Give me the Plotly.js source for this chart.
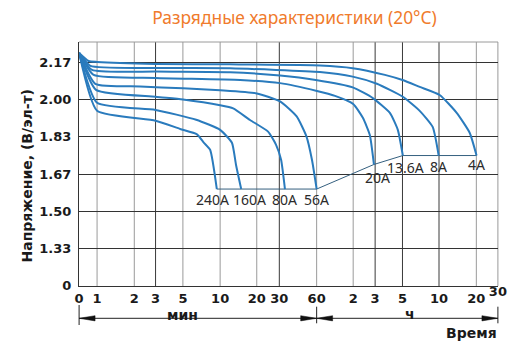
<!DOCTYPE html>
<html><head><meta charset="utf-8">
<script src="https://cdn.plot.ly/plotly-3.0.1.min.js"></script>
<style>html,body{margin:0;padding:0;background:#fff}#chart{width:517px;height:344px}</style>
</head><body><div id="chart"></div>
<script>
// ---- data ----
const tickMinutes = [0,1,2,3,5,10,20,30,60,120,180,300,600,1200,1800];
const tickLabels = ['0','1','2','3','5','10','20','30','60','2','3','5','10','20','30'];
const voltTickVals = [7/6, 8/6, 9/6, 10/6, 11/6, 12/6, 13/6];
const voltTickLabels = ['0','1.33','1.50','1.67','1.83','2.00','2.17'];
const seriesNames = ['240A','160A','80A','56A','20A','13.6A','8A','4A'];

const t240 = [0, 1, 3, 4.75, 6.5, 7.4, 8.3, 9.4];
const v240 = [2.209, 1.950, 1.906, 1.869, 1.845, 1.807, 1.776, 1.60];
const t160 = [0, 1, 3, 6.4, 10, 12.5, 13.5, 14.9];
const v160 = [2.209, 1.986, 1.954, 1.910, 1.865, 1.807, 1.709, 1.60];
const t80 = [0, 0.94, 3, 5, 10, 12.8, 17.6, 24.5, 28.3, 31, 33.3];
const v80 = [2.209, 2.044, 2.013, 2.001, 1.975, 1.961, 1.909, 1.857, 1.798, 1.731, 1.60];
const t56 = [0, 0.9, 2.24, 5, 10, 20, 30.4, 41.4, 49.7, 55, 60];
const v56 = [2.209, 2.071, 2.059, 2.051, 2.042, 2.028, 1.992, 1.925, 1.835, 1.731, 1.60];
const t20 = [0, 0.81, 3, 14.6, 30.4, 60.3, 85, 120, 143.5, 163, 176];
const v20 = [2.209, 2.111, 2.097, 2.088, 2.074, 2.039, 2.017, 1.981, 1.919, 1.843, 1.71];
const t136 = [0, 0.72, 3, 12.1, 30.4, 59, 119, 172.5, 237, 275, 302];
const v136 = [2.209, 2.133, 2.126, 2.123, 2.108, 2.088, 2.055, 2.007, 1.941, 1.865, 1.75];
const t8 = [0, 0.63, 3, 12.1, 63.8, 119, 186, 300, 416, 532, 596];
const v8 = [2.209, 2.151, 2.142, 2.140, 2.124, 2.103, 2.071, 2.014, 1.950, 1.878, 1.75];
const t4 = [0, 0.53, 1, 3, 12, 64, 119, 216, 300, 416, 607, 833, 1060, 1205];
const v4 = [2.209, 2.173, 2.169, 2.160, 2.158, 2.153, 2.141, 2.111, 2.088, 2.057, 2.021, 1.941, 1.852, 1.75];

// ---- layout scale: screen position of each time tick (piecewise log time axis) ----
const tickPos = [78.7,96.7,134,155.3,182.7,220,256.7,279.3,316.7,353.3,375.3,402.7,439.3,476.7,498.3];
const darkGrid = [1,0,0,1,0,0,0,1,0,0,1,1,1,0,0];
const XR = [78.6, 498.4];
function xpos(t){
  const n = tickMinutes.length;
  for (let i=0;i<n-1;i++){
    const a=tickMinutes[i], b=tickMinutes[i+1];
    if (t<=b || i===n-2){
      const f = (a===0) ? (t-a)/(b-a) : Math.log(t/a)/Math.log(b/a);
      return tickPos[i] + f*(tickPos[i+1]-tickPos[i]);
    }
  }
}
function px2paperX(p){ return (p-XR[0])/(XR[1]-XR[0]); }
const TOP=42, BOT=286, H=BOT-TOP;
function py2paperY(p){ return (BOT-p)/H; }

const series = [[t240,v240],[t160,v160],[t80,v80],[t56,v56],[t20,v20],[t136,v136],[t8,v8],[t4,v4]];
const blue = '#2a7bbd';
const traces = [];
const ends = series.map(s=>[s[0][s[0].length-1], s[1][s[1].length-1]]).sort((a,b)=>a[0]-b[0]);
traces.push({x: ends.map(e=>xpos(e[0])), y: ends.map(e=>e[1]), mode:'lines',
  line:{color:'#35607f', width:1}, hoverinfo:'skip'});
series.forEach((s,i)=>{
  traces.push({x: s[0].map(xpos), y: s[1], mode:'lines', name: seriesNames[i],
    line:{color: blue, width: 2, shape:'spline', smoothing:0.5}});
});
const lastIdx = tickMinutes.length-1;
// last x tick label as a text mark at the end of the time axis
traces.push({x:[xpos(tickMinutes[lastIdx])], y:[7/6], mode:'text', text:['<b>'+tickLabels[lastIdx]+'</b>'],
  textposition:'bottom center', cliponaxis:false, hoverinfo:'skip',
  textfont:{family:'DejaVu Sans', size:13, color:'#1a1a1a'}});

const labelShift = [[-4,-10],[8,-10],[0,-10],[0,-10],[4,-13],[3,-12],[0,-11],[0,-9]];
const annotations = series.map((s,i)=>({
  x: xpos(s[0][s[0].length-1]), y: s[1][s[1].length-1], xref:'x', yref:'y',
  text: seriesNames[i], showarrow:false, xanchor:'center', yanchor:'middle',
  xshift: labelShift[i][0], yshift: labelShift[i][1],
  font:{family:'Noto Sans', size:14, color:'#2b2b2b'}
}));
const boldFont = {family:'DejaVu Sans', size:14, color:'#1a1a1a', weight:'bold'};
annotations.push({xref:'paper', yref:'paper', x:px2paperX(182.5), y:py2paperY(314.5), text:'мин',
  showarrow:false, xanchor:'center', yanchor:'middle', font: boldFont});
annotations.push({xref:'paper', yref:'paper', x:px2paperX(410), y:py2paperY(313.5), text:'ч',
  showarrow:false, xanchor:'center', yanchor:'middle', font: boldFont});
annotations.push({xref:'paper', yref:'paper', x:px2paperX(471.5), y:py2paperY(333), text:'Время',
  showarrow:false, xanchor:'center', yanchor:'middle', font: boldFont});
annotations.push({xref:'paper', yref:'paper', x:px2paperX(27), y:py2paperY(175), text:'Напряжение, (В/эл-т)',
  showarrow:false, xanchor:'center', yanchor:'middle', textangle:-90, font: boldFont});

const shapes = [];
tickPos.forEach((p,i)=>{
  if (i===0) return;
  shapes.push({type:'line', xref:'paper', yref:'paper', x0:px2paperX(p), x1:px2paperX(p), y0:0, y1:1,
    line:{color: darkGrid[i] ? '#3a3a3a' : '#9a9a9a', width:1}, layer:'below'});
});
shapes.push({type:'line', xref:'paper', yref:'paper', x0:0, x1:1, y0:1, y1:1, line:{color:'#9a9a9a', width:1}, layer:'below'});
const ay = py2paperY(318.3), ah = 2.6/H;
function seg(a,b){ shapes.push({type:'line', xref:'paper', yref:'paper', x0:px2paperX(a), x1:px2paperX(b), y0:ay, y1:ay, line:{color:'#222', width:1}}); }
function vtick(p, y0, y1){ shapes.push({type:'line', xref:'paper', yref:'paper', x0:px2paperX(p), x1:px2paperX(p), y0:py2paperY(y0), y1:py2paperY(y1), line:{color:'#222', width:1}}); }
function head(tip, dir){
  const base = tip + dir*16;
  const xt = px2paperX(tip), xb = px2paperX(base);
  shapes.push({type:'path', xref:'paper', yref:'paper',
    path:`M ${xt},${ay} L ${xb},${ay+ah} L ${xb},${ay-ah} Z`, fillcolor:'#111', line:{color:'#111', width:0.5}});
}
seg(tickPos[0], tickPos[8]); seg(tickPos[8], tickPos[14]);
vtick(tickPos[0], 305, 325); vtick(tickPos[8], 306.7, 323.3); vtick(tickPos[14], 306.7, 323.3);
head(tickPos[0], 1); head(tickPos[8], -1); head(tickPos[8], 1); head(tickPos[14], -1);

const layout = {
  width:517, height:344,
  margin:{l:79, r:19, t:TOP, b:344-BOT, pad:0},
  paper_bgcolor:'#fff', plot_bgcolor:'#fff', showlegend:false,
  title:{text:'Разрядные характеристики (20°C)', x:294.5/517, xref:'container', xanchor:'center',
    y:1-18/344, yref:'container', yanchor:'middle', font:{family:'Noto Sans', size:17.4, color:'#f07b2c'}},
  xaxis:{range:XR, tickmode:'array', tickvals:tickPos.slice(0,lastIdx), ticktext:tickLabels.slice(0,lastIdx),
    showgrid:false, zeroline:false,
    showline:true, linecolor:'#333', linewidth:1, ticks:'', ticklabelstandoff:0,
    tickfont:{family:'DejaVu Sans', size:13, color:'#1a1a1a', weight:'bold'}},
  yaxis:{range:[7/6-0.0004, 2.258], tickmode:'array', tickvals:voltTickVals, ticktext:voltTickLabels,
    showgrid:true, gridcolor:'#333', gridwidth:1, zeroline:false, showline:true, linecolor:'#333', linewidth:1,
    ticks:'', ticklabelstandoff:4, tickfont:{family:'DejaVu Sans', size:13, color:'#1a1a1a', weight:'bold'}},
  annotations, shapes
};
Plotly.newPlot('chart', traces, layout, {displayModeBar:false, staticPlot:true});
</script></body></html>
